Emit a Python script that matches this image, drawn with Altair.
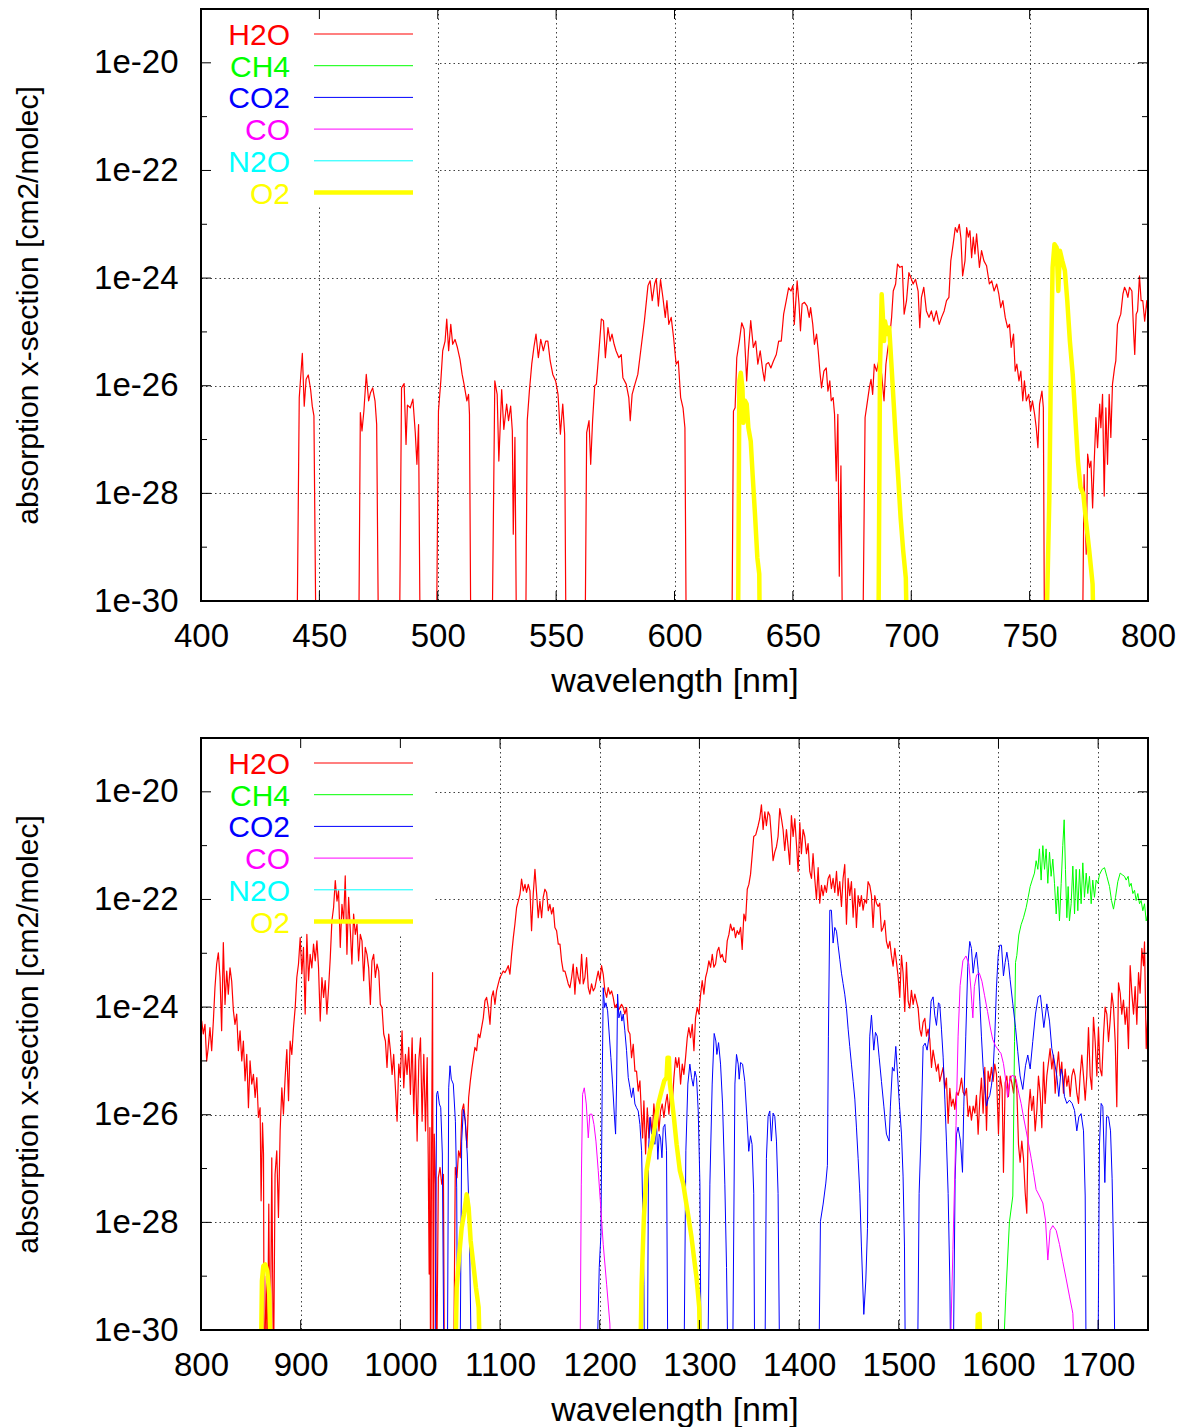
import altair as alt
import pandas as pd

PLOT_W, PLOT_H = 947, 592
FONT = "Liberation Sans"

# Absorption cross-sections as (wavelength nm, log10 sigma [cm2/molec]).
# -31 marks spectral stretches where the cross-section lies below the 1e-30 floor.
H2O_VIS = [
    (400, -31), (440.5, -31), (441.5, -26.22), (442.8, -25.40), (443.6, -26.38), (444.4, -25.88),
    (445.3, -25.80), (446.3, -26.07), (447.0, -26.38), (447.7, -26.56), (448.6, -31),
    (466.6, -31), (467.3, -26.50), (468.0, -26.84), (468.8, -26.47), (469.8, -25.79), (470.8, -26.28),
    (471.6, -26.13), (472.5, -26.04), (473.5, -26.28), (474.2, -26.72), (475.0, -31),
    (483.8, -31), (484.7, -26.04), (485.8, -25.96), (486.6, -27.09), (487.2, -26.36), (488.4, -26.41),
    (489.5, -26.25), (490.5, -26.87), (491.2, -27.46), (491.9, -26.72), (492.6, -31),
    (499.4, -31), (500.3, -26.47), (501.3, -25.91), (502.1, -25.35), (503.1, -25.17), (503.8, -24.76),
    (504.6, -25.35), (505.5, -24.86), (506.3, -25.23), (507.3, -25.14), (508.3, -25.29), (509.4, -25.51),
    (510.3, -25.79), (511.1, -25.97), (512.3, -26.28), (513.0, -26.16), (513.4, -26.53), (514.0, -31),
    (522.9, -31), (524.1, -25.91), (525.1, -26.16), (525.8, -27.40), (527.0, -26.07), (527.9, -26.81),
    (529.1, -26.34), (529.9, -26.65), (530.8, -26.38), (531.5, -26.84), (531.9, -28.76), (532.6, -26.96),
    (533.3, -31),
    (537.1, -31), (537.8, -26.65), (538.7, -26.10), (539.7, -25.60), (540.6, -25.29), (541.5, -25.04),
    (542.5, -25.48), (543.5, -25.14), (544.6, -25.35), (545.6, -25.17), (546.5, -25.17), (547.5, -25.54),
    (548.6, -25.79), (549.8, -25.91), (550.8, -26.16), (551.8, -26.90), (552.8, -26.34), (553.6, -26.90),
    (554.2, -31),
    (562.2, -31), (562.9, -26.87), (563.9, -26.65), (564.6, -27.46), (565.4, -26.65), (566.3, -26.00),
    (567.0, -25.97), (568.1, -25.35), (569.1, -24.76), (570.0, -24.79), (570.8, -25.48), (571.9, -24.92),
    (572.8, -25.17), (573.6, -25.04), (574.5, -25.23), (575.3, -25.35), (576.5, -25.48), (577.5, -25.42),
    (578.2, -25.85), (579.6, -25.97), (580.7, -26.22), (581.3, -26.65), (582.1, -26.16), (583.3, -25.97),
    (584.5, -25.79), (585.9, -25.29), (587.3, -24.79), (588.8, -24.14), (589.7, -24.05), (590.6, -24.42),
    (591.6, -24.11), (592.3, -24.01), (593.2, -24.52), (594.1, -24.03), (595.1, -24.36), (596.1, -24.73),
    (596.8, -24.42), (597.6, -24.86), (598.6, -24.73), (599.6, -25.10), (600.7, -25.60), (601.6, -25.54),
    (602.6, -26.22), (603.6, -26.41), (604.4, -26.78), (605.0, -31),
    (624.2, -31), (624.9, -26.47), (625.6, -26.41), (626.3, -25.48), (627.4, -25.17), (628.4, -24.83),
    (629.4, -24.95), (630.5, -25.91), (631.2, -25.35), (632.2, -24.79), (633.3, -25.29), (634.3, -25.17),
    (635.2, -25.60), (636.2, -25.35), (637.3, -25.73), (638.0, -25.91), (638.7, -25.60), (639.7, -25.57),
    (640.7, -25.67), (641.8, -25.54), (643.0, -25.42), (644.0, -25.17), (645.1, -25.17), (646.1, -24.67),
    (647.2, -24.42), (648.2, -24.18), (649.2, -24.24), (650.0, -24.14), (650.6, -24.86), (651.8, -24.05),
    (652.6, -24.48), (653.2, -24.98), (653.9, -24.48), (654.9, -24.45), (656.0, -24.52), (656.9, -24.73),
    (657.5, -24.55), (658.4, -24.86), (659.1, -25.23), (660.0, -25.04), (660.7, -25.35), (661.4, -25.73),
    (662.1, -26.04), (663.1, -25.73), (664.1, -25.67), (664.8, -26.10), (665.6, -25.91), (666.2, -26.28),
    (667.0, -26.22), (667.6, -26.53), (668.3, -27.77), (669.0, -26.53), (669.6, -29.54), (670.3, -27.49),
    (671.0, -31),
    (679.5, -31), (680.5, -26.59), (681.2, -26.38), (682.3, -26.04), (683.0, -25.88), (683.7, -26.16),
    (684.4, -25.60), (685.4, -25.73), (686.5, -25.48), (687.5, -25.79), (688.5, -26.28), (689.3, -25.60),
    (690.0, -25.35), (691.0, -25.04), (691.7, -24.73), (692.4, -24.24), (693.4, -24.11), (694.2, -23.74),
    (695.2, -23.80), (696.2, -23.78), (697.0, -24.67), (698.0, -24.42), (699.0, -23.90), (699.8, -23.99),
    (700.8, -24.11), (701.8, -24.02), (702.9, -24.24), (703.6, -24.92), (704.3, -24.36), (705.3, -24.17),
    (706.4, -24.61), (707.5, -24.73), (708.5, -24.61), (709.5, -24.80), (710.6, -24.61), (711.8, -24.86),
    (712.8, -24.73), (713.9, -24.61), (714.9, -24.42), (715.9, -24.36), (716.7, -23.68), (717.7, -23.37),
    (718.6, -23.06), (719.4, -23.15), (720.3, -23.00), (721.0, -23.27), (721.7, -23.96), (722.7, -23.68),
    (723.4, -23.06), (724.1, -23.24), (724.8, -23.12), (725.5, -23.62), (726.2, -23.24), (726.9, -23.55),
    (727.6, -23.18), (728.8, -23.80), (729.7, -23.49), (730.7, -23.68), (731.8, -23.77), (733.0, -24.11),
    (734.0, -24.05), (735.0, -24.24), (736.1, -24.11), (737.0, -24.30), (737.8, -24.55), (738.7, -24.42),
    (739.7, -24.73), (740.7, -24.92), (741.5, -24.86), (742.2, -25.29), (743.2, -25.04), (743.9, -25.73),
    (744.6, -25.60), (745.5, -25.91), (746.3, -25.73), (747.1, -26.28), (747.8, -25.91), (748.6, -26.28),
    (749.6, -26.16), (750.4, -26.47), (751.2, -26.28), (752.1, -26.53), (752.8, -26.78), (753.5, -27.15),
    (754.2, -26.34), (755.2, -26.10), (755.8, -26.41), (756.3, -31),
    (772.3, -31), (773.0, -27.65), (773.9, -29.13), (774.5, -27.27), (775.3, -27.52), (775.9, -27.40),
    (776.6, -28.27), (777.3, -27.40), (778.0, -26.59), (778.7, -27.15), (779.6, -26.34), (780.1, -26.78),
    (780.8, -26.16), (781.5, -28.05), (782.2, -26.41), (782.9, -27.46), (783.6, -26.16), (784.3, -26.96),
    (785.0, -25.97), (785.9, -25.66), (786.4, -25.54), (787.1, -24.86), (788.0, -24.73), (788.5, -24.67),
    (789.4, -24.30), (790.1, -24.17), (790.8, -24.24), (791.5, -24.36), (792.2, -24.17), (793.2, -24.24),
    (793.9, -24.98), (794.4, -25.42), (795.0, -24.67), (795.6, -24.61), (796.4, -23.96), (797.1, -24.42),
    (797.8, -24.42), (798.6, -24.80), (799.5, -24.42), (800.0, -24.67),
]

O2_VIS = [
    (400, -31), (626.8, -31), (627.4, -25.91), (628.0, -25.76), (628.7, -26.04), (629.1, -26.69),
    (629.8, -26.28), (630.5, -26.34), (631.2, -26.78), (632.2, -27.03), (633.0, -27.65), (634.0, -28.39),
    (635.0, -29.20), (635.8, -29.50), (636.1, -31),
    (686.1, -31), (686.8, -25.66), (687.5, -24.30), (687.9, -24.61), (688.5, -25.17), (688.9, -24.80),
    (689.9, -25.04), (690.7, -24.92), (691.7, -25.66), (692.7, -26.41), (693.5, -27.03), (694.5, -27.71),
    (695.5, -28.45), (696.6, -29.07), (697.7, -29.57), (698.3, -31),
    (756.9, -31), (758.3, -28.14), (759.0, -25.66), (759.7, -23.80), (760.5, -23.37), (761.4, -23.43),
    (762.1, -24.24), (762.8, -23.49), (763.8, -23.68), (764.9, -23.86), (765.9, -24.42), (767.0, -25.17),
    (768.2, -25.79), (769.3, -26.59), (770.4, -27.40), (771.5, -27.89), (772.7, -28.02), (773.8, -28.51),
    (775.2, -29.07), (776.6, -29.69), (777.2, -31), (800, -31),
]

H2O_NIR = [
    (800.0, -24.30), (800.7, -24.26), (802.3, -24.50), (804.0, -24.32), (805.7, -25.00), (807.3, -24.75),
    (809.0, -24.38), (810.7, -24.81), (812.4, -24.26), (814.0, -23.64), (815.7, -23.20), (817.4, -22.99),
    (819.1, -23.45), (820.7, -24.44), (822.4, -22.80), (824.1, -23.95), (825.8, -23.33), (827.4, -23.76),
    (829.1, -23.27), (830.8, -23.52), (832.5, -24.07), (834.1, -24.32), (835.8, -24.13), (837.5, -24.81),
    (839.2, -24.44), (840.9, -25.00), (842.5, -24.63), (844.2, -25.37), (845.9, -24.88), (847.6, -25.87),
    (849.2, -25.00), (850.9, -25.43), (852.6, -25.25), (854.3, -25.68), (856.0, -25.31), (857.6, -26.05),
    (859.3, -25.87), (860.3, -27.60), (861.7, -26.15), (862.7, -26.73), (863.4, -31), (865.5, -29.00),
    (866.5, -31), (868.0, -27.66), (869.4, -31), (871.0, -26.80), (872.7, -31), (874.3, -27.11),
    (876.0, -26.67), (877.7, -27.91), (879.4, -26.30), (881.1, -25.50), (882.7, -25.99), (884.4, -25.31),
    (886.1, -24.79), (887.8, -25.74), (889.4, -24.63), (891.1, -24.88), (892.8, -24.38), (894.5, -24.01),
    (896.1, -23.45), (897.8, -23.20), (899.5, -22.71), (901.2, -23.38), (902.8, -22.89), (904.5, -24.13),
    (906.2, -22.65), (907.9, -23.51), (909.5, -23.02), (911.2, -23.27), (912.9, -22.83), (914.6, -23.14),
    (916.3, -22.77), (917.9, -23.27), (919.6, -24.26), (921.3, -23.45), (923.0, -23.82), (924.6, -23.51),
    (926.3, -24.13), (928.0, -23.64), (929.7, -23.08), (931.3, -22.40), (933.0, -22.15), (934.7, -21.65),
    (936.4, -22.03), (938.0, -21.84), (939.7, -22.89), (941.4, -22.09), (943.1, -22.40), (944.7, -21.56),
    (946.4, -23.02), (948.1, -21.96), (949.8, -22.58), (951.4, -23.20), (953.1, -22.27), (954.8, -22.65),
    (956.5, -22.46), (958.1, -23.14), (959.8, -22.65), (961.5, -22.77), (963.2, -23.51), (964.8, -22.89),
    (966.5, -23.02), (968.2, -23.27), (969.9, -23.95), (971.5, -23.14), (973.2, -23.02), (974.9, -23.45),
    (976.6, -23.20), (978.3, -23.33), (979.9, -23.95), (981.6, -24.01), (983.3, -24.50), (985.0, -24.63),
    (986.6, -25.12), (988.3, -24.50), (990.0, -24.81), (991.7, -25.25), (993.3, -24.88), (995.0, -25.50),
    (996.7, -26.12), (998.4, -25.06), (1000.0, -25.31), (1001.7, -24.44), (1003.4, -25.50), (1005.1, -24.88),
    (1006.7, -25.25), (1008.4, -24.75), (1010.1, -25.62), (1011.8, -24.57), (1013.4, -25.99), (1015.1, -24.88),
    (1016.8, -26.49), (1018.5, -25.00), (1020.2, -24.57), (1021.8, -26.12), (1023.5, -24.88), (1025.2, -26.30),
    (1026.9, -24.94), (1027.9, -26.73), (1028.9, -28.96), (1029.6, -26.24), (1030.3, -31), (1031.3, -26.73),
    (1032.3, -23.36), (1033.0, -31), (1034.0, -26.36), (1035.3, -27.29), (1036.4, -31), (1038.1, -27.17),
    (1039.8, -26.98), (1041.5, -27.29), (1043.2, -27.11), (1044.2, -31), (1053.4, -31), (1055.1, -26.98),
    (1056.8, -27.17), (1058.4, -26.67), (1060.1, -26.80), (1061.8, -25.93), (1063.5, -25.80), (1065.1, -26.12),
    (1066.8, -26.61), (1068.5, -25.68), (1070.2, -25.37), (1071.9, -25.12), (1074.8, -24.75), (1076.5, -24.81),
    (1078.2, -24.50), (1079.8, -24.57), (1081.5, -24.38), (1083.2, -24.20), (1084.9, -23.88), (1086.5, -23.82),
    (1088.2, -24.01), (1089.9, -24.32), (1091.5, -23.82), (1093.2, -23.70), (1094.9, -23.95), (1096.5, -23.70),
    (1098.2, -23.57), (1099.9, -23.45), (1101.6, -23.39), (1103.2, -23.33), (1104.9, -23.36), (1106.6, -23.30),
    (1108.2, -23.23), (1109.9, -23.39), (1111.6, -23.02), (1113.3, -22.71), (1114.9, -22.46), (1116.6, -22.15),
    (1118.3, -22.03), (1120.0, -21.90), (1121.6, -21.62), (1123.3, -21.84), (1125.0, -21.72), (1126.6, -21.87),
    (1128.3, -21.72), (1130.0, -21.84), (1131.6, -22.58), (1133.3, -21.90), (1135.0, -21.44), (1136.7, -21.90),
    (1138.3, -22.34), (1140.0, -22.03), (1141.7, -22.34), (1143.3, -21.96), (1145.0, -21.81), (1146.7, -21.87),
    (1148.4, -22.21), (1150.0, -22.09), (1151.7, -22.27), (1153.4, -22.15), (1155.0, -22.52), (1156.7, -22.58),
    (1158.4, -22.83), (1160.1, -22.83), (1161.7, -23.14), (1163.4, -23.33), (1165.1, -23.33), (1166.8, -23.45),
    (1168.4, -23.57), (1170.1, -23.64), (1171.8, -23.45), (1173.4, -23.20), (1175.1, -23.76), (1176.8, -23.26),
    (1178.4, -23.45), (1180.1, -23.57), (1181.8, -23.02), (1183.5, -23.57), (1185.1, -23.45), (1186.8, -23.08),
    (1188.5, -23.64), (1190.1, -23.76), (1191.8, -23.57), (1193.5, -23.70), (1195.2, -23.64), (1196.8, -23.48),
    (1198.5, -23.33), (1200.2, -23.51), (1201.8, -23.23), (1203.5, -23.39), (1205.2, -23.70), (1206.9, -23.82),
    (1208.5, -23.64), (1210.2, -23.76), (1211.9, -23.70), (1213.5, -23.82), (1215.2, -24.01), (1216.9, -23.95),
    (1218.6, -24.07), (1220.2, -24.01), (1221.9, -23.95), (1223.6, -24.01), (1225.2, -24.13), (1226.9, -24.01),
    (1228.6, -24.44), (1230.3, -24.50), (1231.9, -24.94), (1233.6, -24.69), (1235.3, -25.19), (1236.9, -25.19),
    (1238.6, -25.56), (1240.3, -25.37), (1242.0, -26.05), (1243.0, -26.43), (1244.3, -25.74), (1246.0, -26.73),
    (1247.7, -25.87), (1249.3, -26.43), (1251.0, -26.05), (1252.7, -26.36), (1254.3, -25.80), (1256.0, -26.18),
    (1257.7, -25.87), (1259.4, -26.30), (1261.0, -25.93), (1262.7, -25.80), (1264.4, -26.05), (1266.0, -25.80),
    (1267.7, -25.62), (1269.4, -25.99), (1271.1, -25.56), (1272.7, -25.80), (1274.4, -25.31), (1276.1, -24.94),
    (1277.7, -25.12), (1279.4, -24.94), (1281.1, -25.43), (1282.8, -25.06), (1284.4, -25.25), (1286.1, -24.94),
    (1287.8, -24.57), (1289.4, -24.38), (1291.1, -24.57), (1292.8, -24.32), (1294.5, -24.81), (1296.1, -24.20),
    (1297.8, -24.01), (1299.5, -24.13), (1301.2, -23.76), (1302.8, -23.51), (1304.5, -23.76), (1306.2, -23.45),
    (1307.8, -23.33), (1309.5, -23.14), (1311.2, -23.26), (1312.9, -23.02), (1314.5, -23.26), (1316.2, -23.20),
    (1317.9, -22.96), (1319.5, -22.89), (1321.2, -23.08), (1322.9, -23.02), (1324.5, -23.14), (1326.2, -23.17),
    (1327.9, -22.77), (1329.6, -22.65), (1331.2, -22.46), (1332.9, -22.58), (1334.6, -22.52), (1336.2, -22.71),
    (1337.9, -22.58), (1339.6, -22.65), (1341.3, -22.52), (1342.9, -22.93), (1344.6, -22.27), (1346.3, -22.40),
    (1348.0, -21.81), (1349.6, -21.72), (1351.3, -21.53), (1353.0, -21.16), (1354.5, -20.83), (1356.5, -20.80),
    (1358.9, -20.63), (1360.5, -20.50), (1362.2, -20.24), (1363.9, -20.70), (1365.6, -20.37), (1367.2, -20.63),
    (1368.9, -20.37), (1370.6, -20.44), (1372.2, -20.83), (1373.9, -21.28), (1375.6, -21.12), (1377.3, -21.02),
    (1378.9, -20.83), (1380.6, -20.31), (1382.3, -20.50), (1383.9, -20.70), (1385.6, -21.09), (1387.3, -20.70),
    (1389.0, -21.02), (1390.6, -21.35), (1392.3, -20.44), (1394.0, -20.83), (1395.7, -20.50), (1397.3, -20.96),
    (1399.0, -21.48), (1400.7, -20.57), (1402.3, -21.15), (1404.0, -20.70), (1405.7, -20.83), (1407.4, -21.15),
    (1409.0, -20.96), (1410.7, -21.48), (1412.4, -21.61), (1414.0, -21.15), (1415.7, -21.61), (1417.4, -22.00),
    (1419.1, -21.41), (1420.7, -22.07), (1422.4, -21.74), (1424.1, -21.93), (1425.8, -21.74), (1427.4, -21.87),
    (1429.1, -21.61), (1430.8, -21.54), (1432.4, -21.80), (1434.1, -21.61), (1435.8, -21.87), (1437.5, -21.48),
    (1439.1, -21.93), (1440.8, -21.67), (1442.5, -22.13), (1444.1, -21.61), (1445.8, -21.35), (1447.5, -22.46),
    (1449.2, -21.61), (1450.8, -21.93), (1452.5, -21.67), (1454.2, -22.33), (1455.9, -21.80), (1457.5, -22.52),
    (1459.2, -21.93), (1460.9, -22.13), (1462.5, -21.93), (1464.2, -22.20), (1465.9, -22.00), (1467.6, -22.07),
    (1469.2, -21.67), (1470.9, -21.74), (1472.6, -21.93), (1474.2, -22.52), (1475.9, -21.93), (1477.6, -22.07),
    (1479.3, -22.13), (1480.9, -22.07), (1482.6, -22.59), (1484.3, -22.52), (1485.9, -22.39), (1487.6, -22.78),
    (1489.3, -22.91), (1491.0, -22.78), (1492.6, -23.04), (1494.3, -23.24), (1496.0, -22.91), (1497.7, -23.17),
    (1499.3, -23.43), (1501.0, -23.82), (1502.7, -23.04), (1504.3, -23.37), (1506.0, -24.08), (1507.7, -23.17),
    (1509.4, -23.89), (1511.0, -24.02), (1512.7, -23.69), (1514.4, -23.95), (1516.1, -23.76), (1517.7, -23.89),
    (1519.4, -24.02), (1521.1, -24.41), (1522.7, -24.54), (1524.4, -24.28), (1526.1, -24.21), (1527.8, -24.54),
    (1529.4, -24.41), (1531.1, -24.60), (1532.8, -25.12), (1534.4, -24.80), (1536.1, -24.99), (1537.8, -25.19),
    (1539.5, -25.06), (1541.1, -25.38), (1542.8, -25.25), (1544.5, -25.12), (1546.2, -25.51), (1547.8, -25.32),
    (1549.5, -26.16), (1551.2, -25.51), (1552.8, -25.84), (1554.5, -25.71), (1556.2, -25.90), (1557.9, -25.58),
    (1559.5, -25.64), (1561.2, -25.51), (1562.9, -25.32), (1564.5, -25.58), (1566.2, -25.64), (1567.9, -25.51),
    (1569.6, -26.03), (1571.2, -25.84), (1572.9, -26.10), (1574.6, -25.84), (1576.3, -25.97), (1577.9, -25.64),
    (1579.6, -26.36), (1581.3, -25.71), (1582.9, -25.32), (1584.6, -25.97), (1586.3, -25.12), (1588.0, -26.29),
    (1589.6, -25.19), (1591.3, -25.38), (1593.0, -25.12), (1594.6, -25.38), (1596.3, -25.06), (1598.0, -25.25),
    (1600.0, -26.36), (1601.7, -25.28), (1603.7, -25.53), (1605.0, -27.07), (1606.7, -25.41), (1608.4, -25.28),
    (1610.0, -25.66), (1611.7, -25.28), (1613.4, -25.41), (1615.1, -25.60), (1616.7, -25.28), (1618.4, -25.53),
    (1620.1, -26.56), (1621.7, -26.88), (1623.4, -26.49), (1625.1, -26.81), (1626.8, -27.45), (1628.4, -27.83),
    (1630.1, -25.92), (1631.8, -25.53), (1633.4, -25.92), (1635.1, -25.66), (1636.8, -26.30), (1638.5, -25.92),
    (1640.1, -25.28), (1641.8, -25.60), (1643.5, -26.24), (1645.2, -25.02), (1646.8, -25.79), (1648.5, -25.28),
    (1650.2, -25.02), (1651.8, -24.77), (1653.5, -25.15), (1655.2, -24.89), (1656.9, -25.60), (1658.5, -25.15),
    (1660.2, -24.83), (1661.9, -25.28), (1663.5, -25.02), (1665.2, -25.60), (1666.9, -25.15), (1668.6, -25.47),
    (1670.2, -25.28), (1671.9, -25.66), (1673.6, -25.28), (1675.3, -25.15), (1676.9, -25.28), (1678.6, -25.60),
    (1680.3, -25.79), (1681.9, -25.28), (1683.6, -24.89), (1685.3, -25.28), (1687.0, -25.73), (1688.6, -25.28),
    (1690.3, -24.38), (1692.0, -25.28), (1693.6, -25.53), (1695.3, -24.19), (1697.0, -24.64), (1698.7, -25.28),
    (1700.3, -24.38), (1702.0, -25.15), (1703.7, -25.28), (1705.4, -24.51), (1707.0, -24.00), (1708.7, -24.13),
    (1710.4, -24.64), (1712.0, -24.26), (1713.7, -23.74), (1715.4, -24.00), (1717.1, -24.64), (1718.7, -25.85),
    (1720.4, -23.55), (1722.1, -23.74), (1723.7, -24.13), (1725.4, -23.87), (1727.1, -24.32), (1728.8, -24.00),
    (1730.4, -24.77), (1732.1, -23.23), (1733.8, -23.74), (1735.5, -24.13), (1737.1, -23.62), (1738.8, -24.32),
    (1740.5, -23.36), (1742.1, -23.74), (1743.8, -22.91), (1745.5, -23.23), (1746.5, -22.79), (1748.2, -24.77),
    (1749.8, -24.13),
]

CH4_NIR = [
    (800, -31), (1603.7, -31), (1607.5, -29.30), (1611.0, -27.99), (1614.4, -27.51), (1616.1, -24.64),
    (1617.1, -23.17), (1618.4, -23.04), (1620.4, -22.66), (1622.7, -22.47), (1625.1, -22.34), (1627.8, -22.15),
    (1629.8, -21.96), (1631.8, -21.76), (1633.8, -21.64), (1636.1, -21.51), (1637.8, -21.28), (1639.5, -21.44),
    (1641.1, -21.06), (1642.8, -21.64), (1644.5, -21.00), (1646.2, -21.44), (1647.8, -21.06), (1649.5, -21.70),
    (1651.2, -21.12), (1652.8, -21.57), (1654.5, -21.25), (1656.2, -21.70), (1657.9, -22.27), (1659.5, -21.76),
    (1661.2, -22.40), (1662.9, -21.70), (1664.5, -21.00), (1665.9, -20.52), (1667.2, -21.44), (1668.6, -22.34),
    (1669.9, -21.76), (1671.2, -22.40), (1672.9, -22.08), (1674.6, -21.38), (1676.3, -22.27), (1677.9, -21.44),
    (1679.6, -22.21), (1681.3, -21.44), (1682.9, -22.08), (1684.6, -21.32), (1686.3, -21.96), (1688.0, -21.51),
    (1689.6, -21.89), (1691.3, -21.57), (1693.0, -22.08), (1694.6, -21.64), (1696.3, -21.96), (1698.0, -21.64),
    (1699.7, -21.70), (1701.3, -21.54), (1704.0, -21.44), (1706.4, -21.41), (1708.7, -21.57), (1711.4, -21.76),
    (1713.4, -22.02), (1715.4, -22.18), (1717.4, -21.96), (1719.7, -21.67), (1722.1, -21.51), (1724.1, -21.54),
    (1726.4, -21.57), (1728.1, -21.64), (1730.1, -21.57), (1731.4, -21.76), (1733.1, -21.70), (1734.8, -21.89),
    (1736.5, -21.83), (1738.1, -22.02), (1739.8, -21.89), (1741.5, -22.08), (1743.1, -22.02), (1744.8, -22.21),
    (1746.5, -22.08), (1748.2, -22.40), (1749.8, -22.27),
]

CO2_NIR = [
    (800, -31), (1034.7, -31), (1036.4, -25.62), (1037.4, -25.56), (1039.1, -25.80), (1040.5, -25.87),
    (1042.1, -26.73), (1043.8, -31), (1047.1, -31), (1048.5, -25.50), (1049.8, -25.09), (1051.1, -25.34),
    (1053.1, -25.43), (1055.2, -26.12), (1056.5, -27.36), (1057.5, -31), (1059.8, -31), (1061.5, -26.49),
    (1063.2, -25.90), (1065.1, -26.12), (1067.1, -26.73), (1069.1, -27.97), (1071.5, -31),
    (1196.8, -31), (1199.5, -28.84), (1201.2, -28.22), (1202.5, -25.43), (1203.5, -23.64), (1204.9, -24.01),
    (1206.2, -23.92), (1207.9, -24.07), (1209.5, -24.50), (1211.2, -24.94), (1212.9, -25.43), (1214.6, -25.99),
    (1215.9, -26.36), (1216.9, -25.43), (1217.9, -23.76), (1219.2, -24.20), (1220.9, -24.07), (1222.2, -24.26),
    (1223.6, -24.13), (1225.2, -24.44), (1226.9, -24.81), (1228.6, -25.31), (1230.3, -25.50), (1231.9, -25.68),
    (1233.6, -25.50), (1235.3, -25.80), (1236.9, -25.87), (1238.6, -25.93), (1240.3, -26.18), (1242.0, -26.67),
    (1243.3, -27.91), (1244.3, -29.15), (1245.0, -31), (1247.7, -31), (1249.0, -26.67), (1250.3, -26.05),
    (1252.0, -26.36), (1253.7, -26.30), (1255.3, -26.55), (1257.0, -26.18), (1258.3, -26.83), (1259.7, -26.36),
    (1261.0, -26.43), (1262.4, -26.80), (1263.7, -26.24), (1265.4, -26.18), (1267.0, -26.67), (1268.4, -31),
    (1284.4, -31), (1286.4, -26.67), (1288.4, -25.43), (1290.4, -25.06), (1292.1, -25.31), (1293.8, -25.47),
    (1295.5, -25.19), (1297.1, -25.31), (1298.8, -25.93), (1300.5, -27.29), (1301.8, -31),
    (1308.2, -31), (1310.5, -27.29), (1312.8, -25.43), (1314.8, -24.49), (1316.5, -24.63), (1317.5, -24.88),
    (1319.2, -24.66), (1321.2, -25.06), (1323.2, -25.80), (1325.5, -27.29), (1327.2, -28.84), (1328.9, -31),
    (1333.2, -31), (1335.6, -25.43), (1337.2, -24.88), (1338.9, -25.06), (1339.9, -25.34), (1341.3, -25.03),
    (1343.3, -25.06), (1345.5, -25.38), (1347.8, -26.10), (1349.5, -26.68), (1351.2, -26.39), (1352.8, -26.55),
    (1354.5, -27.46), (1355.5, -31), (1365.6, -31), (1367.2, -26.81), (1368.9, -26.03), (1370.6, -25.93),
    (1372.2, -26.49), (1373.9, -25.97), (1375.6, -26.03), (1377.3, -26.49), (1378.9, -27.46), (1380.6, -31),
    (1419.7, -31), (1421.4, -27.98), (1424.1, -27.66), (1426.8, -27.27), (1428.4, -26.94), (1429.4, -24.54),
    (1430.8, -22.20), (1432.4, -22.20), (1434.1, -22.81), (1435.8, -22.52), (1437.5, -22.59), (1439.1, -22.85),
    (1440.8, -23.11), (1442.5, -23.37), (1444.1, -23.56), (1445.8, -23.76), (1447.5, -24.02), (1449.2, -24.41),
    (1450.8, -24.73), (1452.5, -25.06), (1454.2, -25.38), (1455.9, -25.71), (1457.5, -26.23), (1459.2, -26.81),
    (1460.9, -27.46), (1462.5, -28.44), (1464.9, -29.71), (1466.9, -29.09), (1468.6, -28.11), (1469.6, -25.84),
    (1470.9, -24.54), (1472.6, -24.15), (1474.9, -24.80), (1476.6, -24.47), (1478.3, -24.54), (1480.3, -24.93),
    (1482.6, -25.38), (1485.0, -25.84), (1487.6, -26.36), (1490.3, -26.49), (1491.6, -25.84), (1493.6, -25.12),
    (1495.3, -25.19), (1497.0, -24.73), (1498.3, -25.12), (1500.3, -25.71), (1502.7, -26.36), (1504.3, -27.14),
    (1505.7, -28.44), (1506.7, -31), (1518.7, -31), (1520.4, -27.46), (1522.1, -26.49), (1524.4, -24.73),
    (1526.4, -24.67), (1528.4, -24.80), (1530.4, -24.54), (1532.4, -23.89), (1534.4, -23.81), (1536.1, -24.15),
    (1537.8, -24.34), (1539.8, -23.92), (1541.1, -23.95), (1542.8, -24.41), (1544.5, -24.93), (1546.2, -25.71),
    (1547.8, -26.49), (1549.5, -27.46), (1551.2, -29.09), (1552.2, -31), (1554.5, -31), (1556.5, -27.20),
    (1557.9, -26.36), (1559.5, -26.23), (1561.9, -26.49), (1563.9, -27.07), (1565.2, -25.84), (1567.2, -24.54),
    (1569.2, -23.24), (1571.2, -22.78), (1572.9, -22.91), (1574.6, -23.37), (1576.3, -23.11), (1577.9, -22.98),
    (1579.6, -23.30), (1581.3, -23.89), (1582.9, -24.54), (1584.6, -25.12), (1586.3, -25.51), (1588.0, -25.84),
    (1589.6, -25.71), (1591.3, -25.64), (1593.0, -25.45), (1594.6, -25.19), (1596.3, -24.54), (1598.0, -23.63),
    (1599.7, -23.04), (1601.3, -22.85), (1603.0, -22.85), (1605.0, -23.42), (1606.7, -23.17), (1608.4, -22.98),
    (1610.0, -23.17), (1611.7, -23.49), (1614.4, -23.94), (1617.1, -24.38), (1619.4, -24.83), (1621.7, -25.28),
    (1624.4, -25.53), (1627.1, -25.09), (1629.4, -24.89), (1631.8, -25.15), (1634.4, -24.64), (1637.1, -24.13),
    (1639.8, -23.81), (1642.1, -23.78), (1645.5, -24.38), (1648.5, -23.94), (1651.2, -24.26), (1653.5, -24.77),
    (1656.2, -25.02), (1658.5, -25.28), (1660.5, -25.66), (1662.9, -25.15), (1664.5, -25.28), (1666.2, -25.66),
    (1668.6, -25.79), (1671.2, -25.73), (1673.9, -25.79), (1676.3, -25.92), (1678.6, -26.30), (1680.6, -26.04),
    (1682.9, -25.98), (1685.3, -26.30), (1687.0, -27.51), (1688.0, -31), (1699.7, -31), (1701.3, -26.56),
    (1703.0, -25.79), (1704.7, -25.85), (1706.7, -27.26), (1708.4, -26.04), (1710.4, -26.04), (1712.4, -26.30),
    (1714.0, -27.19), (1715.7, -28.79), (1717.1, -31), (1750, -31),
]

CO_NIR = [
    (800, -31), (1180.1, -31), (1181.5, -27.29), (1182.8, -25.62), (1184.5, -25.50), (1186.5, -25.80),
    (1188.5, -26.43), (1190.1, -25.99), (1192.2, -25.99), (1194.2, -26.18), (1196.2, -26.49), (1198.5, -27.04),
    (1200.8, -27.66), (1203.5, -28.41), (1206.9, -29.15), (1210.2, -29.89), (1211.5, -31),
    (1551.0, -31), (1554.3, -28.50), (1557.4, -26.20), (1559.5, -24.54), (1561.5, -23.60), (1564.3, -23.14),
    (1567.4, -23.05), (1570.3, -23.20), (1572.5, -23.70), (1574.3, -24.20), (1575.8, -23.62), (1578.1, -23.40),
    (1580.8, -23.37), (1583.4, -23.52), (1586.1, -23.79), (1589.0, -24.08), (1591.7, -24.37), (1594.2, -24.60),
    (1597.0, -24.72), (1600.0, -24.80), (1602.5, -24.86), (1605.0, -25.05), (1607.0, -25.32), (1609.2, -25.68),
    (1611.2, -25.37), (1613.5, -25.27), (1615.5, -25.28), (1617.7, -25.34), (1620.4, -25.60), (1622.7, -25.79),
    (1625.1, -26.04), (1627.8, -26.30), (1630.4, -26.56), (1632.8, -26.81), (1635.1, -27.07), (1637.8, -27.39),
    (1641.1, -27.51), (1644.5, -27.64), (1647.2, -27.96), (1649.5, -28.70), (1651.8, -28.15), (1654.5, -28.06),
    (1657.9, -28.15), (1661.2, -28.41), (1664.5, -28.73), (1667.9, -29.05), (1671.2, -29.37), (1674.6, -29.69),
    (1677.3, -31), (1750, -31),
]

O2_NIR = [
    (800, -31), (859.8, -31), (861.1, -29.09), (862.5, -28.81), (864.5, -28.78), (866.5, -28.90),
    (868.5, -29.34), (870.5, -31), (1054.8, -31), (1056.5, -29.21), (1059.1, -28.59), (1061.5, -28.10),
    (1063.8, -27.85), (1066.5, -27.48), (1068.5, -27.73), (1070.5, -28.34), (1073.2, -28.78), (1075.8, -29.21),
    (1078.5, -29.58), (1080.5, -31), (1240.3, -31), (1242.0, -29.15), (1244.3, -27.91), (1247.0, -27.04),
    (1250.3, -26.67), (1253.0, -26.49), (1255.7, -26.18), (1258.7, -25.80), (1262.0, -25.56), (1264.7, -25.37),
    (1267.0, -25.31), (1268.0, -24.94), (1269.4, -24.94), (1270.4, -25.43), (1272.1, -25.68), (1274.4, -26.05),
    (1277.1, -26.55), (1280.4, -27.04), (1283.8, -27.29), (1286.4, -27.60), (1289.1, -27.91), (1292.1, -28.28),
    (1294.5, -28.65), (1297.1, -29.03), (1299.8, -29.58), (1301.2, -31), (1577.5, -31), (1579.3, -29.72),
    (1581.0, -29.70), (1582.6, -31), (1750, -31),
]

N2O_VIS = []
N2O_NIR = []

SPECIES = ["H2O", "CH4", "CO2", "CO", "N2O", "O2"]
COLORS = {"H2O": "#ff0000", "CH4": "#00ff00", "CO2": "#0000ff",
          "CO": "#ff00ff", "N2O": "#00ffff", "O2": "#ffff00"}
WIDTHS = {"H2O": 1.2, "CH4": 1.0, "CO2": 1.0, "CO": 1.0, "N2O": 1.0, "O2": 4.5}

Y_DECADES = list(range(-30, -18))          # tick at every decade, label every second
VIS_X_TICKS = [400, 450, 500, 550, 600, 650, 700, 750, 800]
NIR_X_TICKS = [800, 900, 1000, 1100, 1200, 1300, 1400, 1500, 1600, 1700]

VIS_SERIES = {"H2O": H2O_VIS, "N2O": N2O_VIS, "O2": O2_VIS}
NIR_SERIES = {"H2O": H2O_NIR, "CH4": CH4_NIR, "CO2": CO2_NIR, "CO": CO_NIR,
              "N2O": N2O_NIR, "O2": O2_NIR}

# key layout inside the plot area (pixels)
KEY_BOX_W, KEY_BOX_H = 232, 196
KEY_TEXT_X, KEY_LINE_X0, KEY_LINE_X1 = 89, 113, 212
KEY_ROW0, KEY_ROW_STEP = 25, 31.7
KEY_FONT_SIZE = 30
MAJOR_TICK, MINOR_TICK = 10, 6


def to_frame(pairs):
    df = pd.DataFrame(pairs, columns=["wl", "lg"])
    df["sigma"] = 10.0 ** df["lg"]
    return df


def one_row(**kw):
    return pd.DataFrame([kw if kw else {"k": 0}])


def panel(series, x_domain, x_ticks):
    x_enc = alt.X(
        "wl:Q",
        scale=alt.Scale(domain=x_domain, nice=False, zero=False),
        axis=alt.Axis(values=x_ticks, title="wavelength [nm]", format="d"),
    )
    y_enc = alt.Y(
        "sigma:Q",
        scale=alt.Scale(type="log", domain=[1e-30, 1e-19], nice=False),
        axis=alt.Axis(
            values=[10.0 ** e for e in Y_DECADES if e % 2 == 0],
            labelExpr="'1e' + round(log(datum.value) / LN10)",
            title="absorption x-section [cm2/molec]",
        ),
    )

    layers = []
    # opaque key background hides the grid behind the key
    layers.append(
        alt.Chart(one_row()).mark_rect(fill="white", stroke=None).encode(
            x=alt.value(0), x2=alt.value(KEY_BOX_W), y=alt.value(0), y2=alt.value(KEY_BOX_H)
        )
    )

    for name in SPECIES:
        pairs = series.get(name, [])
        if not pairs:
            continue
        layers.append(
            alt.Chart(to_frame(pairs))
            .mark_line(color=COLORS[name], strokeWidth=WIDTHS[name], clip=True,
                       strokeJoin="round", interpolate="linear")
            .encode(x=x_enc, y=y_enc, order="wl:Q")
        )

    # inward tick marks on all four sides
    major = pd.DataFrame({"sigma": [10.0 ** e for e in Y_DECADES if e % 2 == 0 and e > -30]})
    minor = pd.DataFrame({"sigma": [10.0 ** e for e in Y_DECADES if e % 2 != 0]})
    for df, size in ((major, MAJOR_TICK), (minor, MINOR_TICK)):
        layers.append(alt.Chart(df).mark_rule(color="black", strokeWidth=1).encode(
            y=y_enc, x=alt.value(0), x2=alt.value(size)))
        layers.append(alt.Chart(df).mark_rule(color="black", strokeWidth=1).encode(
            y=y_enc, x=alt.value(PLOT_W), x2=alt.value(PLOT_W - size)))
    xt = pd.DataFrame({"wl": [v for v in x_ticks if x_domain[0] < v < x_domain[1]]})
    layers.append(alt.Chart(xt).mark_rule(color="black", strokeWidth=1).encode(
        x=x_enc, y=alt.value(PLOT_H), y2=alt.value(PLOT_H - MAJOR_TICK)))
    layers.append(alt.Chart(xt).mark_rule(color="black", strokeWidth=1).encode(
        x=x_enc, y=alt.value(0), y2=alt.value(MAJOR_TICK)))

    # key: right-aligned coloured names followed by line samples
    for i, name in enumerate(SPECIES):
        yrow = KEY_ROW0 + i * KEY_ROW_STEP
        layers.append(
            alt.Chart(one_row(label=name))
            .mark_text(align="right", baseline="middle", font=FONT, fontSize=KEY_FONT_SIZE,
                       color=COLORS[name])
            .encode(text="label:N", x=alt.value(KEY_TEXT_X), y=alt.value(yrow + 2))
        )
        layers.append(
            alt.Chart(one_row())
            .mark_rule(color=COLORS[name], strokeWidth=WIDTHS[name])
            .encode(x=alt.value(KEY_LINE_X0), x2=alt.value(KEY_LINE_X1), y=alt.value(yrow))
        )

    # plot frame
    layers.append(
        alt.Chart(one_row()).mark_rect(fillOpacity=0, stroke="black", strokeWidth=2).encode(
            x=alt.value(0), x2=alt.value(PLOT_W), y=alt.value(0), y2=alt.value(PLOT_H)
        )
    )
    return alt.layer(*layers).properties(width=PLOT_W, height=PLOT_H)


top = panel(VIS_SERIES, [400, 800], VIS_X_TICKS)
bottom = panel(NIR_SERIES, [800, 1750], NIR_X_TICKS)

chart = (
    alt.vconcat(top, bottom, spacing=137, bounds="flush")
    .properties(padding={"left": 13, "top": 8, "right": 0, "bottom": 0}, background="white")
    .configure_view(stroke=None)
    .configure_axis(
        labelFont=FONT, labelFontSize=33, labelColor="black",
        titleFont=FONT, titleFontWeight="normal", titleColor="black",
        grid=True, gridColor="#000000", gridDash=[1.5, 3], gridOpacity=0.75, gridWidth=1,
        domain=False, ticks=False, tickSize=0,
        labelFlush=False, labelOverlap=False, labelBound=False,
    )
    .configure_axisX(
        labelPadding=19, titleFontSize=34, titleBaseline="alphabetic",
        titleX=PLOT_W / 2, titleY=90, titleAnchor="middle",
    )
    .configure_axisY(
        labelPadding=23, titleFontSize=30, titleBaseline="alphabetic",
        titleAngle=270, titleX=-163.5, titleY=PLOT_H / 2,
    )
)

chart.save("out.html", embed_options={"renderer": "svg", "actions": False})
